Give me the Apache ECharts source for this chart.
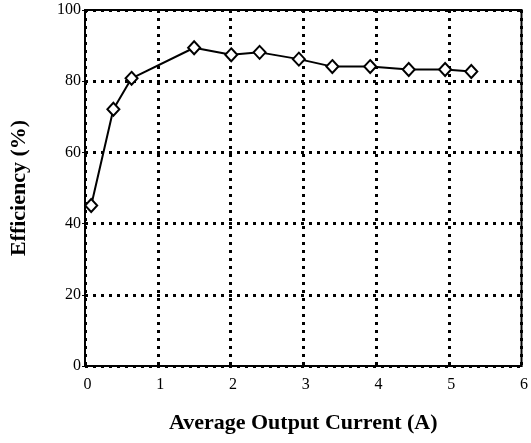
<!DOCTYPE html>
<html><head><meta charset="utf-8">
<script src="https://cdn.jsdelivr.net/npm/echarts@6/dist/echarts.min.js"></script>
<style>html,body{margin:0;padding:0;background:#fff}#c{width:531px;height:443px}</style>
</head><body><div id="c"></div>
<script>
const currents = [0.085, 0.39, 0.64, 1.50, 2.01, 2.40, 2.94, 3.40, 3.92, 4.45, 4.95, 5.31];
const efficiency = [45.1, 72.1, 80.8, 89.4, 87.4, 88.1, 86.2, 84.1, 84.1, 83.3, 83.3, 82.7];
const xTitle = 'Average Output Current (A)';
const yTitle = 'Efficiency (%)';

const font = '"Liberation Serif", "Times New Roman", serif';
const chart = echarts.init(document.getElementById('c'));
chart.setOption({
  animation: false,
  grid: {left: 83, right: 2, top: 10, bottom: 77, show: true, borderColor: '#000', borderWidth: 2, backgroundColor: 'transparent'},
  xAxis: {
    type: 'value', min: 0, max: 6, interval: 1,
    name: xTitle, nameLocation: 'middle', nameGap: 46,
    nameTextStyle: {fontFamily: font, fontWeight: 'bold', fontSize: 22, color: '#000'},
    axisLine: {show: true, lineStyle: {color: '#000', width: 2}},
    axisTick: {show: false},
    axisLabel: {fontFamily: font, fontSize: 16, color: '#000', margin: 11, padding: [0, 0, 0, 5]},
    splitLine: {show: true, lineStyle: {color: '#000', width: 3, type: [3, 5]}}
  },
  yAxis: {
    type: 'value', min: 0, max: 100, interval: 20,
    name: yTitle, nameLocation: 'middle', nameGap: 55,
    nameTextStyle: {fontFamily: font, fontWeight: 'bold', fontSize: 22, color: '#000'},
    axisLine: {show: true, lineStyle: {color: '#000', width: 2}},
    axisTick: {show: true, length: 3, lineStyle: {color: '#000'}},
    axisLabel: {fontFamily: font, fontSize: 16, color: '#000', margin: 4},
    splitLine: {show: true, lineStyle: {color: '#000', width: 3, type: [3, 5]}}
  },
  series: [{
    type: 'line',
    data: currents.map((x, i) => [x, efficiency[i]]),
    symbol: 'diamond', symbolSize: [12, 13],
    lineStyle: {color: '#000', width: 2},
    itemStyle: {color: '#fff', borderColor: '#000', borderWidth: 2}
  }]
});
</script></body></html>
